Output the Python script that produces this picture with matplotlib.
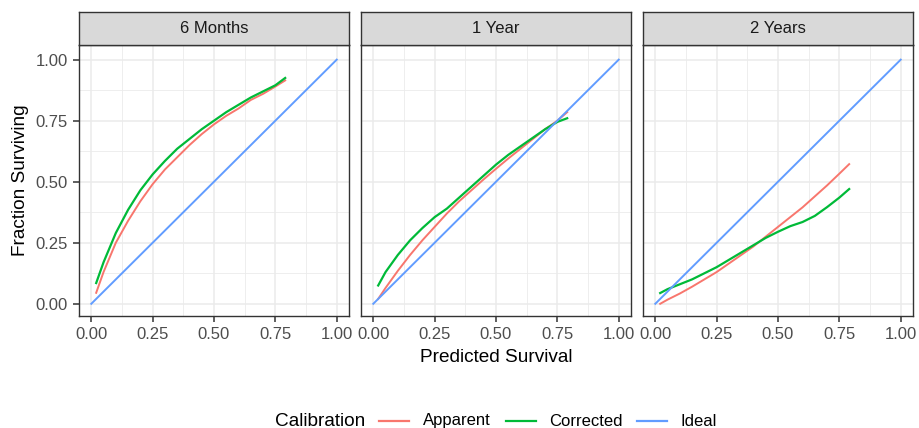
import matplotlib
matplotlib.use("Agg")
import matplotlib.pyplot as plt
from matplotlib.lines import Line2D

plt.rcParams['font.family'] = ['Liberation Sans', 'DejaVu Sans']

# 예측 생존 확률 격자
pred_x = [0.02, 0.05, 0.10, 0.15, 0.20, 0.25, 0.30, 0.35, 0.40, 0.45,
          0.50, 0.55, 0.60, 0.65, 0.70, 0.75, 0.79]

panels = ['6 Months', '1 Year', '2 Years']

apparent_6m = [0.045, 0.13, 0.25, 0.34, 0.42, 0.49, 0.55, 0.60, 0.65, 0.695,
               0.735, 0.77, 0.80, 0.835, 0.86, 0.89, 0.915]
corrected_6m = [0.085, 0.17, 0.29, 0.385, 0.465, 0.53, 0.585, 0.635, 0.675, 0.715,
                0.75, 0.785, 0.815, 0.845, 0.87, 0.895, 0.925]

apparent_1y = [0.02, 0.065, 0.135, 0.20, 0.26, 0.315, 0.37, 0.42, 0.465, 0.51,
               0.553, 0.595, 0.635, 0.675, 0.715, 0.75, 0.785]
corrected_1y = [0.075, 0.13, 0.20, 0.26, 0.31, 0.355, 0.39, 0.435, 0.48, 0.525,
                0.57, 0.61, 0.645, 0.68, 0.715, 0.745, 0.76]

apparent_2y = [0.0, 0.017, 0.042, 0.07, 0.10, 0.13, 0.165, 0.20, 0.235, 0.275,
               0.315, 0.355, 0.395, 0.44, 0.485, 0.533, 0.572]
corrected_2y = [0.044, 0.06, 0.08, 0.10, 0.125, 0.15, 0.18, 0.21, 0.24, 0.27,
                0.295, 0.318, 0.335, 0.36, 0.396, 0.435, 0.47]

ideal_x = [0.0, 1.0]
ideal_y = [0.0, 1.0]

apparent = [apparent_6m, apparent_1y, apparent_2y]
corrected = [corrected_6m, corrected_1y, corrected_2y]

ticks = [0.0, 0.25, 0.5, 0.75, 1.0]
tick_labels = ['0.00', '0.25', '0.50', '0.75', '1.00']

col_app = '#F8766D'
col_cor = '#00BA38'
col_ide = '#619CFF'

W, H = 919, 428
fig = plt.figure(figsize=(W / 100, H / 100), dpi=100)

lefts = [79, 361, 643]
pw = 270
ptop, pbot = 45, 316
strip_top = 12

for i, name in enumerate(panels):
    ax = fig.add_axes([lefts[i] / W, (H - pbot) / H, pw / W, (pbot - ptop) / H])
    ax.set_xlim(-0.05, 1.05)
    ax.set_ylim(-0.05, 1.06)
    ax.set_xticks(ticks)
    ax.set_yticks(ticks)
    ax.set_xticks([0.125, 0.375, 0.625, 0.875], minor=True)
    ax.set_yticks([0.125, 0.375, 0.625, 0.875], minor=True)
    ax.grid(which='major', color='#EBEBEB', linewidth=1.1)
    ax.grid(which='minor', color='#EBEBEB', linewidth=0.6)
    ax.set_axisbelow(True)
    for s in ax.spines.values():
        s.set_color('#333333')
        s.set_linewidth(1.0)
    ax.tick_params(which='major', length=4, width=1.1, color='#333333',
                   labelcolor='#4D4D4D', labelsize=12, pad=4)
    ax.tick_params(which='minor', length=0)
    ax.set_xticklabels(tick_labels)
    if i == 0:
        ax.set_yticklabels(tick_labels)
        ax.set_ylabel('Fraction Surviving', fontsize=13.7, labelpad=5)
    else:
        ax.set_yticklabels([])
        ax.tick_params(axis='y', length=0)
    if i == 1:
        ax.set_xlabel('Predicted Survival', fontsize=13.7, labelpad=5)

    ax.plot(pred_x, apparent[i], color=col_app, linewidth=1.4)
    ax.plot(pred_x, corrected[i], color=col_cor, linewidth=1.6)
    ax.plot(ideal_x, ideal_y, color=col_ide, linewidth=1.4)

    # 패널 제목 띠
    sax = fig.add_axes([lefts[i] / W, (H - ptop) / H, pw / W, (ptop - strip_top) / H])
    sax.set_facecolor('#D9D9D9')
    sax.set_xticks([])
    sax.set_yticks([])
    for s in sax.spines.values():
        s.set_color('#333333')
        s.set_linewidth(1.0)
    sax.text(0.5, 0.5, name, ha='center', va='center', fontsize=12, color='#1A1A1A',
             transform=sax.transAxes)

# 범례
ly = (H - 421) / H
fig.text(275 / W, ly, 'Calibration', ha='left', va='center', fontsize=13.7)
items = [('Apparent', col_app, 379, 423), ('Corrected', col_cor, 506, 549),
         ('Ideal', col_ide, 637, 681)]
for label, c, lx, tx in items:
    fig.add_artist(Line2D([lx / W, (lx + 30) / W], [ly, ly], color=c, linewidth=1.6,
                          transform=fig.transFigure))
    fig.text(tx / W, ly, label, ha='left', va='center', fontsize=12)

fig.savefig('out.png', dpi=100)
